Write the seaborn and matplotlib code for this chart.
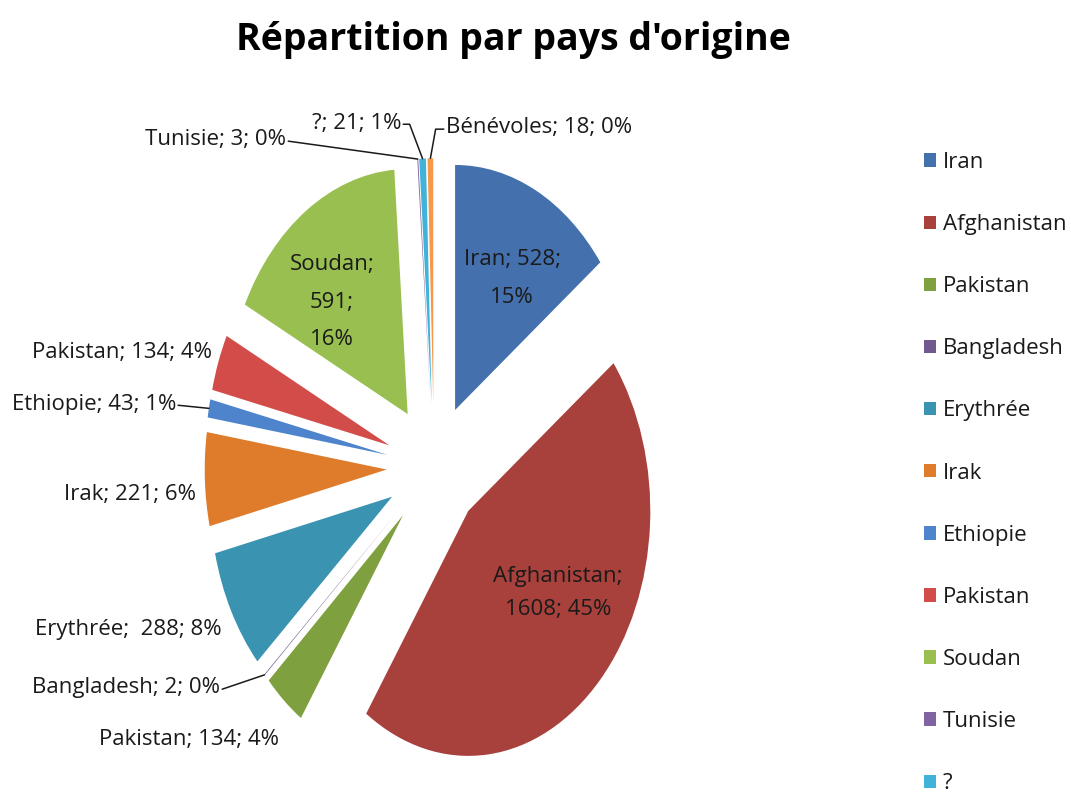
import numpy as np
import matplotlib
matplotlib.use('Agg')
import matplotlib.pyplot as plt
import seaborn as sns

# data, clockwise from 12 o'clock
countries = ['Iran', 'Afghanistan', 'Pakistan', 'Bangladesh', 'Erythrée', 'Irak',
             'Ethiopie', 'Pakistan', 'Soudan', 'Tunisie', '?', 'Bénévoles']
counts = [528, 1608, 134, 2, 288, 221, 43, 134, 591, 3, 21, 18]
pcts = [15, 45, 4, 0, 8, 6, 1, 4, 16, 0, 1, 0]  # as printed on the chart
colors = ['#4470AE', '#A8403C', '#7FA03E', '#71588F', '#3A93B0', '#DE7C2C',
          '#4D84CC', '#D24D49', '#98BF50', '#8064A2', '#41B3D8', '#F59A4A']

sns.set_theme(style='white')
plt.rcParams['font.family'] = ['Open Sans', 'DejaVu Sans']

# label layout: idx -> (x, y, ha, leader, elbow, template, linespacing)
layout = {
    0: (0.429, 0.771, 'center', False, 0, '{n}; {c};\n{p}%', 2.05),
    1: (0.681, -0.514, 'center', False, 0, '{n};\n{c}; {p}%', 1.75),
    8: (-0.560, 0.673, 'center', False, 0, '{n};\n{c};\n{p}%', 2.05),
    2: (-0.852, -1.114, 'right', False, 0, '{n}; {c}; {p}%', 1.2),
    3: (-1.176, -0.902, 'right', True, 0, '{n}; {c}; {p}%', 1.2),
    4: (-1.165, -0.665, 'right', False, 0, '{n};  {c}; {p}%', 1.2),
    5: (-1.308, -0.114, 'right', False, 0, '{n}; {c}; {p}%', 1.2),
    6: (-1.418, 0.257, 'right', True, 0, '{n}; {c}; {p}%', 1.2),
    7: (-1.220, 0.469, 'right', False, 0, '{n}; {c}; {p}%', 1.2),
    9: (-0.813, 1.335, 'right', True, 0, '{n}; {c}; {p}%', 1.2),
    10: (-0.181, 1.404, 'right', True, 0.035, '{n}; {c}; {p}%', 1.2),
    11: (0.066, 1.384, 'left', True, -0.045, '{n}; {c}; {p}%', 1.2),
}

fig = plt.figure(figsize=(10.71, 7.95), dpi=100)
ax = fig.add_axes([0, 0, 1, 1])

wedges, _ = ax.pie(counts, colors=colors, startangle=90, counterclock=False,
                   explode=[0.26] * len(counts), radius=1,
                   wedgeprops=dict(linewidth=0))
ax.set_aspect('auto')
ax.set_xlim(-434 / 182, (1071 - 434) / 182)
ax.set_ylim((467 - 795) / 245, 467 / 245)
ax.axis('off')

fs = 16
for i, w in enumerate(wedges):
    mid = np.deg2rad((w.theta1 + w.theta2) / 2)
    cx, cy = w.center
    x, y, ha, leader, elbow, tmpl, ls = layout[i]
    txt = tmpl.format(n=countries[i], c=counts[i], p=pcts[i])
    ax.text(x, y, txt, ha=ha, va='center', fontsize=fs, color='#1a1a1a',
            linespacing=ls, multialignment='center')
    if leader:
        gap = 0.012 if ha == 'right' else -0.012
        px, py = cx + np.cos(mid), cy + np.sin(mid)
        xs, ys = [x + gap], [y - 0.005]
        if elbow:
            xs.append(x + gap + elbow)
            ys.append(y - 0.005)
        xs.append(px)
        ys.append(py)
        ax.plot(xs, ys, color='#1a1a1a', lw=1.1)

fig.text(513 / 1071, 1 - 40 / 795, "Répartition par pays d'origine",
         ha='center', va='center', fontsize=27, fontweight='bold', color='black')

leg = fig.legend(wedges[:11], countries[:11], loc='upper left',
                 bbox_to_anchor=(924 / 1071, 1 - 152 / 795), frameon=False,
                 fontsize=fs, handlelength=0.55, handleheight=0.55,
                 handletextpad=0.3, labelspacing=1.85, borderpad=0,
                 borderaxespad=0)
for t in leg.get_texts():
    t.set_color('#1a1a1a')

fig.savefig('out.png', dpi=100)
